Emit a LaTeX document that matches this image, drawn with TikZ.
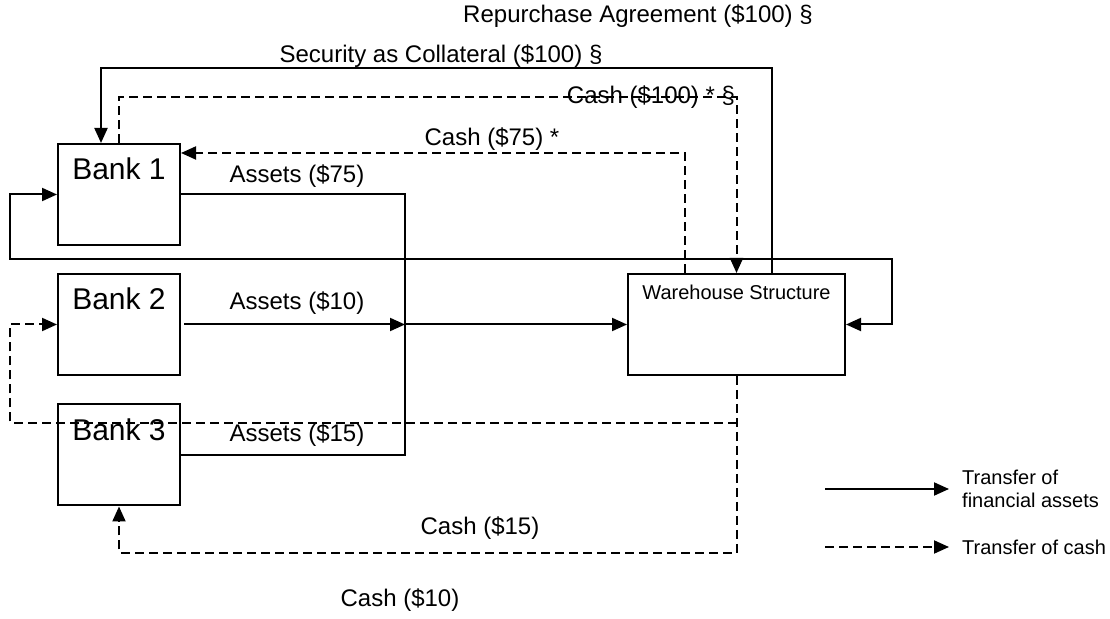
\documentclass[tikz,border=0pt]{standalone}
\usepackage{fontspec}
\setmainfont{Liberation Sans}
\usetikzlibrary{arrows.meta}

\tikzset{
  box/.style={draw, line width=2pt, inner sep=0pt},
  flow/.style={line width=2pt, ->},
  cashflow/.style={flow, dash pattern=on 9pt off 5pt},
  lbl/.style={font=\fontsize{24}{28}\selectfont, inner sep=0pt},
  small/.style={font=\fontsize{20}{23}\selectfont, inner sep=0pt},
  banktxt/.style={font=\fontsize{30}{35}\selectfont, inner sep=0pt},
}

\begin{document}
\begin{tikzpicture}[x=1pt,y=1pt,>={Triangle[length=15pt,width=13pt]}]
    \useasboundingbox (0,0) rectangle (1110,618);

    \node[box, minimum width=122pt, minimum height=101pt] (bank1) at (119,423.5) {};
    \node[box, minimum width=122pt, minimum height=101pt] (bank2) at (119,293.5) {};
    \node[box, minimum width=122pt, minimum height=101pt] (bank3) at (119,163) {};
    \node[box, minimum width=217pt, minimum height=101pt] (wh) at (736.5,293.5) {};

    \coordinate (jn) at (405,293.5);
    \coordinate (secL) at (101,550);
    \coordinate (c100R) at (736.5,521);
    \coordinate (loopL) at (10,359);
    \coordinate (loopR) at (892,359);
    \coordinate (cashJ) at (736.5,195);
    \coordinate (cashL) at (10,195);
    \coordinate (cashB) at (736.5,65);

    \draw[flow] ([xshift=35.5pt]wh.north) |- (secL) -- (secL |- bank1.north);
    \draw[cashflow] (bank1.north) |- (c100R) -- (wh.north);
    \draw[cashflow] ([xshift=-51.5pt]wh.north) |- ([yshift=41.5pt]bank1.east);
    \draw[line width=2pt] (bank1.east) -| (jn) |- (bank3.east);
    \draw[flow] ([xshift=3pt]bank2.east) -- (jn);
    \draw[flow] (jn) -- (wh.west);
    \draw[flow, <->] (bank1.west) -| (loopL) -- (loopR) |- (wh.east);
    \draw[cashflow] (wh.south) -- (cashB) -| (bank3.south);
    \draw[cashflow] (cashJ) -- (cashL) |- (bank2.west);

%labels
    \node[banktxt] (bank1txt) at (bank1.north) [below=15pt] {Bank 1};
    \node[banktxt] (bank2txt) at (bank2.north) [below=15pt] {Bank 2};
    \node[banktxt] (bank3txt) at (bank3.north) [below=15pt] {Bank 3};
    \node[small] (whtxt) at (wh.north) [below=12pt] {Warehouse Structure};

    \node[lbl] (repoLbl) at (638,602) {Repurchase Agreement (\$100) §};
    \node[lbl] (secLbl) at (441,562) {Security as Collateral (\$100) §};
    \node[lbl] (c100Lbl) at (651,521) {Cash (\$100) * §};
    \node[lbl] (c75Lbl) at (492,479) {Cash (\$75) *};
    \node[lbl] (a75Lbl) at (297,442) {Assets (\$75)};
    \node[lbl] (a10Lbl) at (297,315) {Assets (\$10)};
    \node[lbl] (a15Lbl) at (297,183) {Assets (\$15)};
    \node[lbl] (c15Lbl) at (480,90) {Cash (\$15)};
    \node[lbl] (c10Lbl) at (400,18) {Cash (\$10)};

%legend
    \node[small, align=left, anchor=west] (legA) at (962,129) {Transfer of\\financial assets};
    \node[small, anchor=west] (legC) at (962,71) {Transfer of cash};
    \coordinate (legAs) at (825,129);
    \coordinate (legCs) at (825,71);
    \draw[flow] (legAs) -- ([xshift=-13pt]legA.west);
    \draw[cashflow] (legCs) -- ([xshift=-13pt]legC.west);

\end{tikzpicture}
\end{document}
